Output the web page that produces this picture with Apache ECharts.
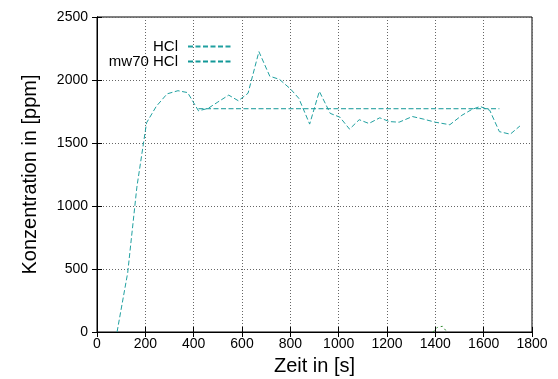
<!DOCTYPE html>
<html>
<head>
<meta charset="utf-8">
<script src="https://cdn.jsdelivr.net/npm/echarts@6/dist/echarts.min.js"></script>
<style>
html,body{margin:0;padding:0;background:#fff;}
#c{width:558px;height:379px;}
</style>
</head>
<body>
<div id="c"></div>
<script>
// HCl measured concentration: [time s, ppm]
const hclTime = [83,127,165,205,245,290,335,375,420,460,500,545,585,625,670,715,755,800,835,880,920,965,1005,1045,1085,1125,1170,1210,1250,1305,1350,1400,1460,1510,1550,1585,1625,1665,1710,1750];
const hclValue = [0,470,1150,1660,1790,1890,1915,1900,1755,1775,1825,1880,1835,1895,2225,2030,2005,1930,1855,1650,1910,1735,1705,1610,1685,1655,1700,1670,1665,1710,1690,1665,1645,1720,1765,1790,1760,1590,1570,1635];
// mw70 HCl mean value
const mwTime = [420,1665];
const mwValue = [1772,1772];
// small extra trace near 1400 s
const extraTime = [1390,1410,1430,1448];
const extraValue = [0,40,45,0];

const xTicks = [0,200,400,600,800,1000,1200,1400,1600,1800];
const yTicks = [0,500,1000,1500,2000,2500];

const pair = (xs, ys) => xs.map((x,i)=>[x, ys[i]]);

const font = 'Liberation Sans, Arial, sans-serif';
const chart = echarts.init(document.getElementById('c'));
const gridLine = {show:true, lineStyle:{color:'#666', type:[1,2], width:1}};
const legendCommon = {right:326, padding:0, align:'right', itemWidth:43, itemHeight:10, itemGap:0,
  itemStyle:{opacity:0},
  textStyle:{fontFamily:font, fontSize:15, color:'#000', padding:[0,5,0,0]}};
chart.setOption({
  animation:false,
  backgroundColor:'#fff',
  grid:{left:97, right:26, top:17, bottom:47, show:true, borderColor:'#000', borderWidth:1,
        containLabel:false, outerBoundsMode:'none'},
  legend:[
    Object.assign({data:['HCl'], top:39}, legendCommon),
    Object.assign({data:['mw70 HCl'], top:54}, legendCommon)
  ],
  xAxis:[
    {type:'value', min:xTicks[0], max:xTicks[xTicks.length-1], interval:200,
     name:'Zeit in [s]', nameLocation:'middle', nameGap:24,
     nameTextStyle:{fontFamily:font, fontSize:20, color:'#000'},
     axisLine:{show:true, lineStyle:{color:'#000'}},
     axisTick:{show:true, inside:true, length:5, lineStyle:{color:'#000'}},
     axisLabel:{fontFamily:font, fontSize:14, color:'#000', margin:5,
       formatter:v=> xTicks.includes(v) ? String(v) : ''},
     splitLine:gridLine},
    {type:'value', position:'top', min:xTicks[0], max:xTicks[xTicks.length-1], interval:200,
     axisLine:{show:true, lineStyle:{color:'#000'}},
     axisTick:{show:true, inside:true, length:5, lineStyle:{color:'#000'}},
     axisLabel:{show:false}, splitLine:{show:false}}
  ],
  yAxis:[
    {type:'value', min:yTicks[0], max:yTicks[yTicks.length-1], interval:500,
     name:'Konzentration in [ppm]', nameLocation:'middle', nameGap:57,
     nameTextStyle:{fontFamily:font, fontSize:20, color:'#000'},
     axisLine:{show:true, lineStyle:{color:'#000'}},
     axisTick:{show:true, inside:true, length:5, lineStyle:{color:'#000'}},
     axisLabel:{fontFamily:font, fontSize:14, color:'#000', margin:9,
       formatter:v=> yTicks.includes(v) ? String(v) : ''},
     splitLine:gridLine},
    {type:'value', position:'right', min:yTicks[0], max:yTicks[yTicks.length-1], interval:500,
     axisLine:{show:true, lineStyle:{color:'#000'}},
     axisTick:{show:true, inside:true, length:5, lineStyle:{color:'#000'}},
     axisLabel:{show:false}, splitLine:{show:false}}
  ],
  series:[
    {name:'HCl', type:'line', data:pair(hclTime,hclValue), symbol:'none', z:3,
     lineStyle:{color:'#20a0a0', width:1, type:[5,2.5]}, itemStyle:{color:'#20a0a0'}},
    {name:'mw70 HCl', type:'line', data:pair(mwTime,mwValue), symbol:'none', z:3,
     lineStyle:{color:'#129898', width:1, type:[5,2.5]}, itemStyle:{color:'#129898'}},
    {name:'extra', type:'line', data:pair(extraTime,extraValue), symbol:'none', z:2,
     lineStyle:{color:'#2e8b2e', width:1, type:[2,3]}, itemStyle:{color:'#2e8b2e'}}
  ]
});
</script>
</body>
</html>
